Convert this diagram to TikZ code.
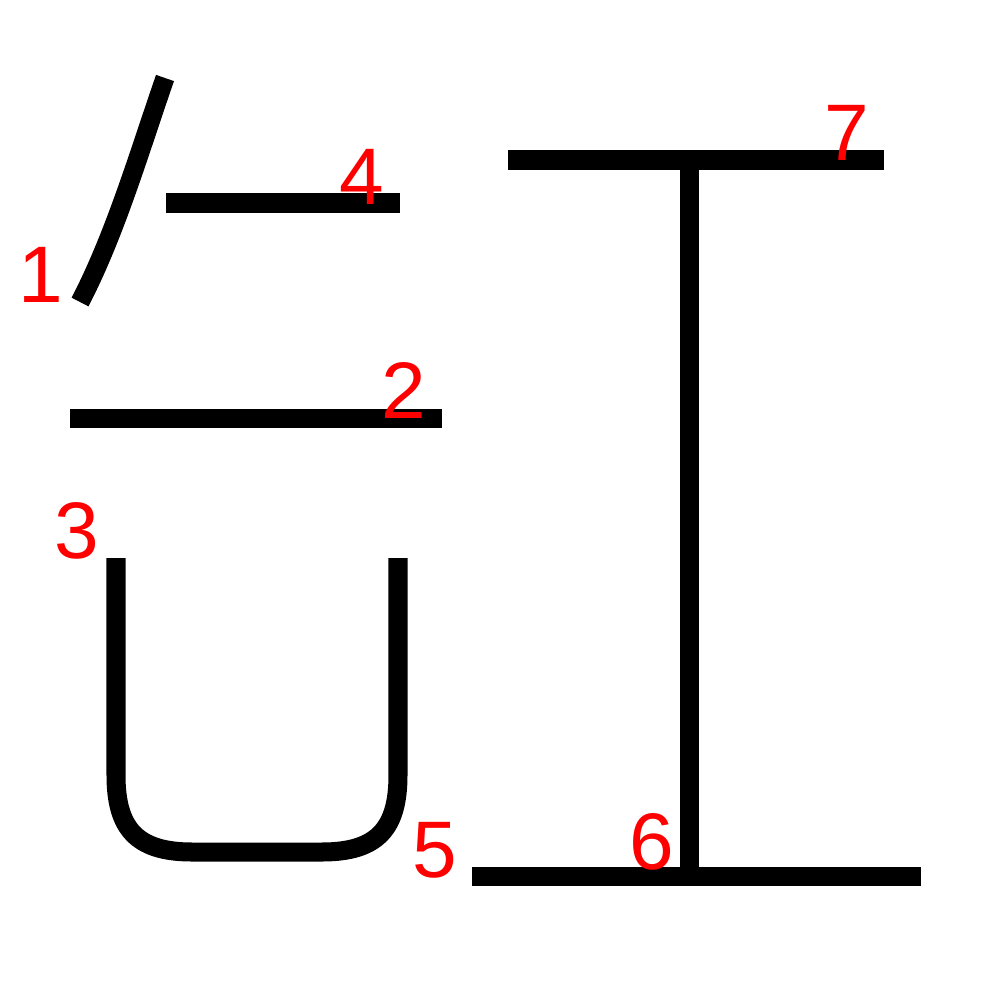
\documentclass[tikz,border=0pt]{standalone}
\usepackage{fontspec}
\setmainfont{Liberation Sans}
\begin{document}
\begin{tikzpicture}[x=0.01cm,y=-0.01cm,
  stroke/.style={line width=0.19cm,black},
  num/.style={anchor=base,text=red,inner sep=0pt,font=\fontsize{22.8}{27}\selectfont}]
\useasboundingbox[fill=white] (0,0) rectangle (1000,1000);
% strokes
\draw[stroke] (165,78) .. controls (140,150) and (115,235) .. (80,302);
\draw[stroke] (70,418) -- (442,418);
\draw[stroke] (116,558) -- (116,775) .. controls (116,828) and (136,852) .. (192,852)
  -- (322,852) .. controls (378,852) and (398,828) .. (398,775) -- (398,558);
\draw[stroke] (166,203) -- (400,203);
\draw[stroke] (472,876) -- (921,876);
\draw[stroke] (689,160) -- (689,868);
\draw[stroke] (508,160) -- (884,160);
% labels
\node[num] (l1) at (41,302) {1};
\node[num] (l2) at (404,418) {2};
\node[num] (l3) at (77,558) {3};
\node[num] (l4) at (362,204) {4};
\node[num] (l5) at (435,877) {5};
\node[num] (l6) at (652,869) {6};
\node[num] (l7) at (847,160) {7};
\end{tikzpicture}
\end{document}
